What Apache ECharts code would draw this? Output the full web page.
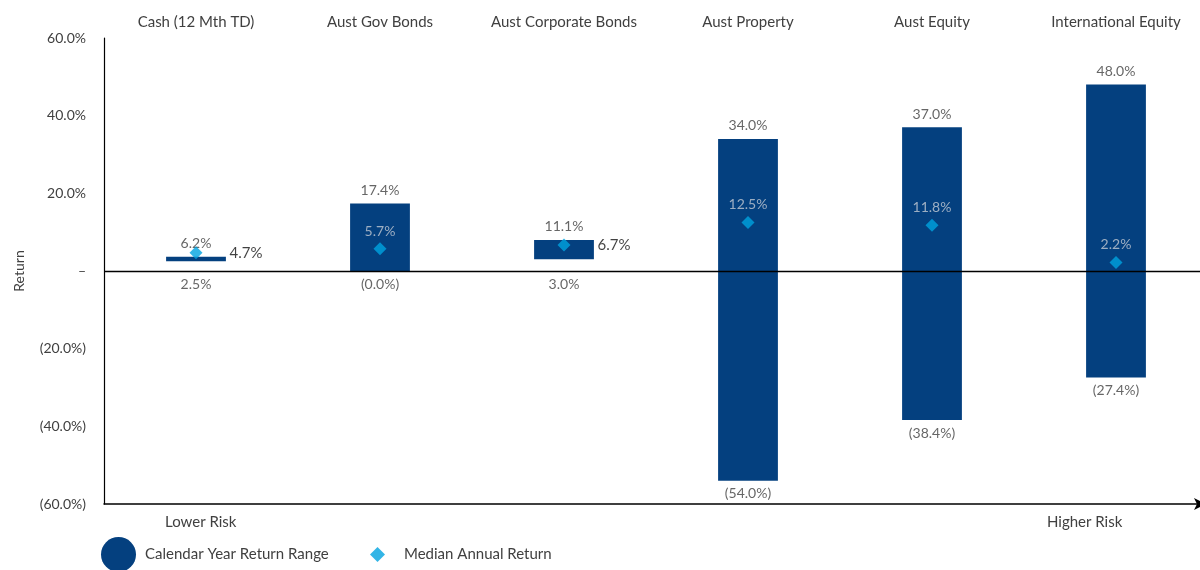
<!DOCTYPE html>
<html><head><meta charset="utf-8">
<script src="https://cdn.jsdelivr.net/npm/echarts@6/dist/echarts.min.js"></script>
<style>html,body{margin:0;padding:0;background:#fff;overflow:hidden}#c{width:1209px;height:570px}</style>
</head><body><div id="c"></div>
<script>
// ---- data ----
const categories = ['Cash (12 Mth TD)', 'Aust Gov Bonds', 'Aust Corporate Bonds', 'Aust Property', 'Aust Equity', 'International Equity'];
const rangeLow = [2.5, -0.0, 3.0, -54.0, -38.4, -27.4];      // bar bottoms / min labels
const rangeHigh = [3.7, 17.4, 8.0, 34.0, 37.0, 48.0];        // bar tops as drawn
const reportedHigh = [6.2, 17.4, 11.1, 34.0, 37.0, 48.0];    // max labels
const median = [4.7, 5.7, 6.7, 12.5, 11.8, 2.2];
const medianLabelSide = ['right', 'top', 'right', 'top', 'top', 'top'];
const yMin = -60, yMax = 60, yStep = 20;
const riskLabels = ['Lower Risk', 'Higher Risk'];
const seriesNames = ['Calendar Year Return Range', 'Median Annual Return'];

// ---- styling ----
const NAVY = '#04407F', CYAN = '#00A3E0', TXT = '#404040', FONT = 'Lato';
function isNeg(v) { return v < 0 || Object.is(v, -0); }
function fmt(v) { return isNeg(v) ? '(' + Math.abs(v).toFixed(1) + '%)' : v.toFixed(1) + '%'; }

const chart = echarts.init(document.getElementById('c'));
chart.setOption({
  animation: false,
  textStyle: { fontFamily: FONT },
  grid: { left: 104, top: 38, right: 1, bottom: 66 },
  xAxis: [
    { type: 'category', data: categories, position: 'top',
      axisLine: { show: false }, axisTick: { show: false },
      axisLabel: { color: TXT, fontSize: 15, margin: 8, interval: 0, fontFamily: FONT } },
    { type: 'category', data: categories, position: 'bottom',
      axisLine: { show: true, onZero: false, lineStyle: { color: '#000', width: 1.5 },
                  symbol: ['none', 'arrow'], symbolSize: [9, 12], symbolOffset: [0, -2] },
      axisTick: { show: false }, axisLabel: { show: false } }
  ],
  yAxis: {
    type: 'value', min: yMin, max: yMax, interval: yStep,
    name: 'Return', nameLocation: 'middle', nameGap: 78,
    nameTextStyle: { color: TXT, fontSize: 14, fontFamily: FONT },
    axisLine: { show: true, lineStyle: { color: '#000', width: 1.2 } },
    axisTick: { show: false }, splitLine: { show: false },
    axisLabel: { color: TXT, fontSize: 14, margin: 18, fontFamily: FONT,
      formatter: v => v === 0 ? '–' : fmt(v) }
  },
  legend: [
    { data: [{ name: seriesNames[0], icon: 'circle' }], left: 96, top: 532,
      itemWidth: 35, itemHeight: 35,
      textStyle: { color: TXT, fontSize: 15, fontFamily: FONT, padding: [0, 0, 0, 4] } },
    { data: [{ name: seriesNames[1], icon: 'diamond' }], left: 365, top: 542,
      itemWidth: 15, itemHeight: 15,
      textStyle: { color: TXT, fontSize: 15, fontFamily: FONT, padding: [0, 0, 0, 14] } }
  ],
  graphic: [
    { type: 'text', left: 165, top: 515, style: { text: riskLabels[0], fill: TXT, font: '15px Lato' } },
    { type: 'text', left: 1047, top: 515, style: { text: riskLabels[1], fill: TXT, font: '15px Lato' } }
  ],
  series: [
    { name: seriesNames[0], type: 'custom', xAxisIndex: 0,
      itemStyle: { color: NAVY },
      encode: { x: 0, y: [1, 2] },
      data: categories.map((c, i) => [i, rangeLow[i], rangeHigh[i]]),
      renderItem: (params, api) => {
        const x = api.value(0);
        const top = api.coord([x, api.value(2)]);
        const bot = api.coord([x, api.value(1)]);
        const w = api.size([1, 0])[0] * 0.325;
        return { type: 'rect', shape: { x: top[0] - w / 2, y: top[1], width: w, height: bot[1] - top[1] },
                 style: { fill: NAVY } };
      }, z: 2 },
    { name: 'maxLabels', type: 'scatter', symbolSize: 0, xAxisIndex: 0, silent: true,
      data: rangeHigh.map((v, i) => [i, v]),
      label: { show: true, position: 'top', distance: 6, color: TXT, fontSize: 14, fontFamily: FONT,
               formatter: p => fmt(reportedHigh[p.dataIndex]) }, z: 3 },
    { name: 'minLabels', type: 'scatter', symbolSize: 0, xAxisIndex: 0, silent: true,
      data: rangeLow.map((v, i) => [i, Math.min(v, 0)]),
      label: { show: true, position: 'bottom', distance: 6, color: TXT, fontSize: 14, fontFamily: FONT,
               formatter: p => fmt(rangeLow[p.dataIndex]) }, z: 3 },
    { name: seriesNames[1], type: 'scatter', symbol: 'diamond', symbolSize: 13, xAxisIndex: 0,
      itemStyle: { color: CYAN },
      data: median.map((v, i) => ({
        value: [i, v],
        label: medianLabelSide[i] === 'right'
          ? { position: 'right', distance: 27, color: '#111', fontSize: 15 }
          : { position: 'top', distance: 4, color: '#c3c9d3', fontSize: 14 }
      })),
      label: { show: true, fontFamily: FONT, formatter: p => fmt(p.value[1]) },
      markLine: { silent: true, symbol: 'none', label: { show: false },
                  lineStyle: { color: '#000', width: 1.3, type: 'solid' },
                  data: [{ yAxis: 0 }] },
      z: 4 }
  ]
});
</script></body></html>
